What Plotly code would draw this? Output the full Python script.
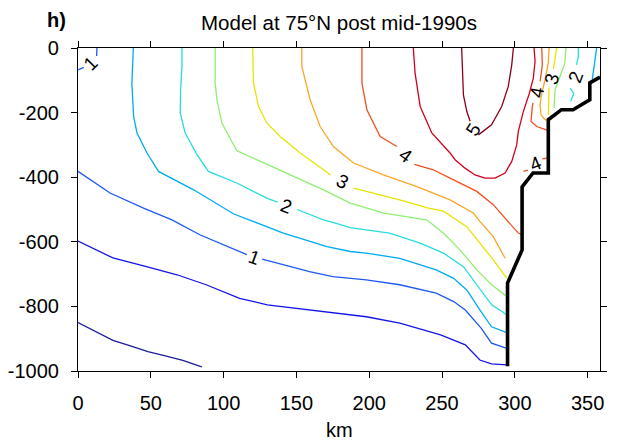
import plotly.graph_objects as go

# Isotherm positions: distance along section (km) and depth (m, negative down).
# None marks a break in a line where its value label sits.
iso_0_x = [0, 12, 24, 36, 48, 60, 72, 85]
iso_0_z = [-850, -878, -905, -922, -940, -953, -967, -987]

iso_05_x = [0, 12, 24, 47, 68, 88, 111, 130, 159, 198, 221, 240, 249, 266, 276, 284, 294.5]
iso_05_z = [-598, -625, -650, -677, -702, -733, -775, -795, -811, -832, -852, -878, -888, -919, -966, -978, -981]

iso_1_x = [0, 22, 45, 64.5, 84, 111, 116, None, 126.5, 159, 175, 198, 221, 246, 258, 266, 277, 284, 294.5]
iso_1_z = [-382, -449, -496, -532, -579, -630, -640, None, -654, -692, -708, -718, -733, -759, -785, -811, -868, -914, -930]
iso_1_corner_x = [13, 12.8, None, 4, 0]
iso_1_corner_z = [0, -25, None, -60, -68]

iso_15_x = [38, 37, 38.2, 40.5, 47.4, 55.3, 79.4, 107, 141, 171, 187, 198, 221, 246, 258, 267, 276, 284, 294.5]
iso_15_z = [0, -110, -212, -263, -325, -382, -439, -514, -573, -615, -630, -635, -651, -687, -713, -749, -811, -863, -881]
iso_15_east_x = [356.2, 355, 353.9, 353.2]
iso_15_east_z = [0, -40, -72, -97]

iso_2_x = [71.4, 71.4, 70.5, 70.2, 73.6, 81.7, 89.6, 109, 129.7, 137, None, 150.5, 168.6, 175, 187, 198, 214, 235, 251, 264.7, 273.9, 284.1, 294.5]
iso_2_z = [0, -57, -130, -201, -263, -330, -382, -418, -465, -477, None, -500, -532, -540, -556, -563, -573, -604, -635, -677, -733, -795, -826]
iso_2_east_x = [343.6, 343.6, 342.4, None, 338, 340.5, 338.4]
iso_2_east_z = [0, -26, -52, None, -124, -140, -165]

iso_25_x = [94.2, 94.2, 95.4, 98.8, 109.1, 129.7, 150.3, 168.6, 187, 210, 239.5, 250.9, 262.3, 273.9, 284.1, 294.5]
iso_25_z = [0, -108, -160, -232, -318, -360, -400, -439, -480, -511, -532, -573, -625, -687, -733, -769]
iso_25_east_x = [335.1, 334.4, 331, 327.6, 327]
iso_25_east_z = [0, -46, -88, -129, -186]

iso_3_x = [120, 120.5, 124, 129.7, 138.8, 152.6, 173.5, None, 189.2, 221, 240, 251, 267, 276, 285.2, 294.5]
iso_3_z = [0, -108, -181, -232, -274, -325, -393, None, -434, -470, -495, -505, -553, -604, -656, -713]
iso_3_east_x = [328.7, 327.6, 326.5, None, 323.5, 323.3, 323]
iso_3_east_z = [0, -40, -65, None, -122, -155, -207]

iso_35_x = [153.7, 153.7, 159.4, 166.3, 175.4, 189.2, 209.8, 232.7, 255.5, 271.5, 276, 285.2, 293.3]
iso_35_z = [0, -57, -160, -243, -305, -356, -393, -429, -470, -511, -537, -584, -651]
iso_35_east_x = [323.5, 323, 320.8, 318.5, 317.3, 318, 320.7, 322.5]
iso_35_east_z = [0, -46, -98, -140, -176, -207, -222, -224]

iso_4_x = [195, 195, 198.4, 207.5, 219, None, 231, 244, 255.5, 273.9, 285.2, 295.5, 302.4, 305]
iso_4_z = [0, -108, -191, -274, -305, None, -360, -377, -403, -444, -485, -537, -573, -578]
iso_4_east_x = [318.5, 318.9, 317.4, None, 312.5, 312, 311.1, 315, 321.2, 323]
iso_4_east_z = [0, -52, -103, None, -170, -181, -227, -243, -253, -254]
iso_4_pocket_x = [305.9, 309, None, 318.9, 323]
iso_4_pocket_z = [-382, -378, None, -343, -340]

iso_45_x = [230.3, 231.5, 235, 243, 255.5, 259, 265.8, 272.7, 279.5, 286.4, 293.3, 297.9, 301.3, 302.4, 305.9, 310, 312.7, 313.9, 313.2]
iso_45_z = [0, -78, -181, -263, -325, -346, -372, -393, -403, -403, -387, -351, -300, -258, -196, -140, -93, -41, 0]

iso_5_x = [263.5, 264.2, 264.7, 267, 269.3, None, 275, 284, 291, 295.5, 297.9, 299]
iso_5_z = [0, -78, -145, -196, -227, None, -269, -238, -181, -119, -52, 0]

# Sea floor / shelf slope outline
bottom_x = [358.5, 351.5, 351.5, 340, 332, 323, 323, 312.5, 305, 305, 295, 295]
bottom_z = [-90, -108, -160, -191, -191, -222, -387, -387, -430, -625, -728, -985]

# Contour value labels: text, position, rotation
label_text = ["1", "1", "2", "3", "4", "5", "4", "3", "2", "4"]
label_x = [8.5, 121, 143.5, 181.5, 225, 271.5, 315.3, 325.5, 342, 314.5]
label_z = [-47, -648, -490, -414, -334, -252, -138, -94, -88, -357]
label_angle = [-45, 20, 20, 28, 35, -58, -80, -75, -70, -22]

# Axis ticks
x_ticks = [0, 50, 100, 150, 200, 250, 300, 350]
y_ticks = [0, -200, -400, -600, -800, -1000]
y_tick_text = ["0", "-200", "-400", "-600", "-800", "-1000"]

level_colors = {
    0.0: "#1c1c96", 0.5: "#1414e6", 1.0: "#1e5af0", 1.5: "#00aaf0",
    2.0: "#28dcdc", 2.5: "#90ee70", 3.0: "#e8e400", 3.5: "#faa528",
    4.0: "#f05020", 4.5: "#d2001e", 5.0: "#8c0014",
}

lines = [
    (0.0, iso_0_x, iso_0_z),
    (0.5, iso_05_x, iso_05_z),
    (1.0, iso_1_x, iso_1_z), (1.0, iso_1_corner_x, iso_1_corner_z),
    (1.5, iso_15_x, iso_15_z), (1.5, iso_15_east_x, iso_15_east_z),
    (2.0, iso_2_x, iso_2_z), (2.0, iso_2_east_x, iso_2_east_z),
    (2.5, iso_25_x, iso_25_z), (2.5, iso_25_east_x, iso_25_east_z),
    (3.0, iso_3_x, iso_3_z), (3.0, iso_3_east_x, iso_3_east_z),
    (3.5, iso_35_x, iso_35_z), (3.5, iso_35_east_x, iso_35_east_z),
    (4.0, iso_4_x, iso_4_z), (4.0, iso_4_east_x, iso_4_east_z), (4.0, iso_4_pocket_x, iso_4_pocket_z),
    (4.5, iso_45_x, iso_45_z),
    (5.0, iso_5_x, iso_5_z),
]

FONT = "Liberation Sans, Arial, Helvetica, sans-serif"

fig = go.Figure()
for level, xs, zs in lines:
    fig.add_trace(go.Scatter(
        x=xs, y=zs, mode="lines", connectgaps=False,
        line=dict(color=level_colors[level], width=1.3),
        hoverinfo="skip", showlegend=False,
    ))

fig.add_trace(go.Scatter(
    x=bottom_x, y=bottom_z, mode="lines",
    line=dict(color="black", width=3.6),
    hoverinfo="skip", showlegend=False,
))

annotations = []
for t, x, z, a in zip(label_text, label_x, label_z, label_angle):
    annotations.append(dict(
        x=x, y=z, xref="x", yref="y", text=t, showarrow=False,
        textangle=a, font=dict(family=FONT, size=19, color="black"),
        xanchor="center", yanchor="middle",
    ))

annotations += [
    dict(x=0.5, y=1, xref="paper", yref="paper", yshift=26,
         text="Model at 75\u00b0N post mid-1990s", showarrow=False,
         font=dict(family=FONT, size=20.5, color="black"),
         xanchor="center", yanchor="middle"),
    dict(x=0, y=1, xref="paper", yref="paper", xshift=-22, yshift=28,
         text="<b>h)</b>", showarrow=False,
         font=dict(family=FONT, size=20, color="black"),
         xanchor="center", yanchor="middle"),
    dict(x=0.5, y=0, xref="paper", yref="paper", yshift=-59,
         text="km", showarrow=False,
         font=dict(family=FONT, size=20, color="black"),
         xanchor="center", yanchor="middle"),
]

axis_common = dict(
    showline=True, linecolor="black", linewidth=1.2, mirror="ticks",
    ticks="outside", ticklen=6, tickwidth=1.2, tickcolor="black",
    showgrid=False, zeroline=False, automargin=False,
    tickfont=dict(family=FONT, size=20, color="black"),
)

fig.update_layout(
    width=619, height=444,
    margin=dict(l=78, r=19, t=48, b=73, autoexpand=False),
    paper_bgcolor="white", plot_bgcolor="white",
    xaxis=dict(range=[0, 358.5], tickvals=x_ticks,
               ticklabelstandoff=8, **axis_common),
    yaxis=dict(range=[-1000, 0], tickvals=y_ticks, ticktext=y_tick_text,
               ticklabelstandoff=8, **axis_common),
    annotations=annotations,
    showlegend=False,
)

fig.write_html("out.html")
